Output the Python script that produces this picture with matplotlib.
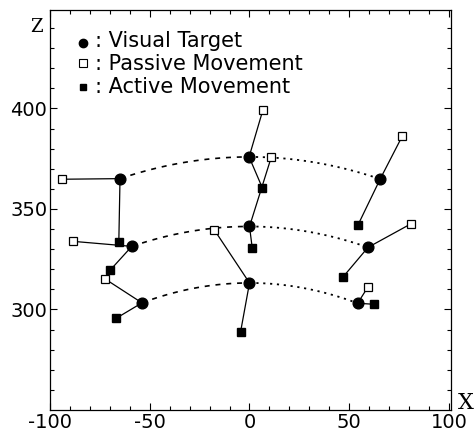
"""Visual target vs. passive / active movement end points (x-z plane)."""
import matplotlib
matplotlib.use("Agg")
import matplotlib.pyplot as plt
import numpy as np

# ---- data (x, z in mm)
target_x = [-64.9, -59.0, -53.9, -0.2, 0.0, 0.0, 65.5, 59.4, 54.2]
target_z = [365.1, 331.4, 303.3, 375.9, 341.3, 313.2, 364.9, 330.9, 303.1]
passive_x = [-93.9, -88.4, -72.4, 6.7, 10.9, -17.7, 76.5, 80.7, 59.5]
passive_z = [364.8, 333.9, 315.2, 399.2, 375.7, 339.7, 386.1, 342.5, 311.4]
active_x = [-65.5, -69.9, -66.7, 6.4, 1.4, -4.5, 54.4, 46.9, 62.4]
active_z = [333.7, 319.5, 295.7, 360.6, 330.4, 288.7, 342.1, 316.2, 302.6]
# targets joined by the arcs (left, middle, right)
arc_rows = [(0, 3, 6), (1, 4, 7), (2, 5, 8)]

x_ticks = [-100, -50, 0, 50, 100]
z_ticks = [300, 350, 400]
legend_labels = [": Visual Target", ": Passive Movement", ": Active Movement"]

plt.rcParams["font.family"] = ["DejaVu Sans"]
plt.rcParams["axes.unicode_minus"] = False

fig = plt.figure(figsize=(4.77, 4.42), dpi=100)
ax = fig.add_axes([0.1048, 0.0724, 0.8407, 0.905])

# ---- arcs through each row of targets: dashed left half, dotted right half
for row in arc_rows:
    xs = np.array([target_x[i] for i in row])
    zs = np.array([target_z[i] for i in row])
    coef = np.polyfit(xs, zs, 2)
    x_left = np.linspace(xs[0], xs[1], 60)
    x_right = np.linspace(xs[1], xs[2], 60)
    ax.plot(x_left, np.polyval(coef, x_left), color="black", lw=1.2,
            ls=(0, (3.0, 3.5)), zorder=1)
    ax.plot(x_right, np.polyval(coef, x_right), color="black", lw=1.3,
            ls=(0, (1.2, 2.6)), zorder=1)

# ---- solid links target -> passive, target -> active
for i in range(len(target_x)):
    ax.plot([target_x[i], passive_x[i]], [target_z[i], passive_z[i]],
            color="black", lw=0.9, zorder=2)
    ax.plot([target_x[i], active_x[i]], [target_z[i], active_z[i]],
            color="black", lw=0.9, zorder=2)

ax.plot(passive_x, passive_z, ls="none", marker="s", ms=6.3,
        mfc="white", mec="black", mew=0.9, zorder=3)
ax.plot(active_x, active_z, ls="none", marker="s", ms=6.0,
        mfc="black", mec="black", zorder=4)
ax.plot(target_x, target_z, ls="none", marker="o", ms=7.7,
        mfc="black", mec="black", zorder=5)

# ---- legend drawn as text, like the original
mark_y = [0.917, 0.867, 0.808]
text_y = [0.908, 0.850, 0.792]
ax.plot(0.083, mark_y[0], marker="o", ms=6.0, color="black",
        transform=ax.transAxes, clip_on=False)
ax.plot(0.083, mark_y[1], marker="s", ms=5.2, mfc="white", mec="black",
        mew=0.8, transform=ax.transAxes, clip_on=False)
ax.plot(0.082, mark_y[2], marker="s", ms=5.0, color="black",
        transform=ax.transAxes, clip_on=False)
for y, lab in zip(text_y, legend_labels):
    ax.text(0.112, y, lab, transform=ax.transAxes, fontsize=15,
            va="baseline", ha="left")

# ---- axes
ax.set_xlim(-100, 101)
ax.set_ylim(250, 449)
ax.set_xticks(x_ticks)
ax.set_yticks(z_ticks)
ax.set_xticks(np.arange(-90, 101, 10), minor=True)
ax.set_yticks(np.arange(260, 449, 10), minor=True)
ax.tick_params(which="both", direction="in", top=True, right=True,
               width=0.8, labelsize=14, pad=2)
ax.tick_params(which="major", length=5)
ax.tick_params(which="minor", length=3)
for s in ax.spines.values():
    s.set_linewidth(0.9)

fig.text(0.0755, 0.938, "Z", family="DejaVu Serif", fontsize=13,
         ha="center", va="center")
fig.text(0.977, 0.088, "X", family="DejaVu Serif", fontsize=16,
         ha="center", va="center")

fig.savefig("out.png", dpi=100)
